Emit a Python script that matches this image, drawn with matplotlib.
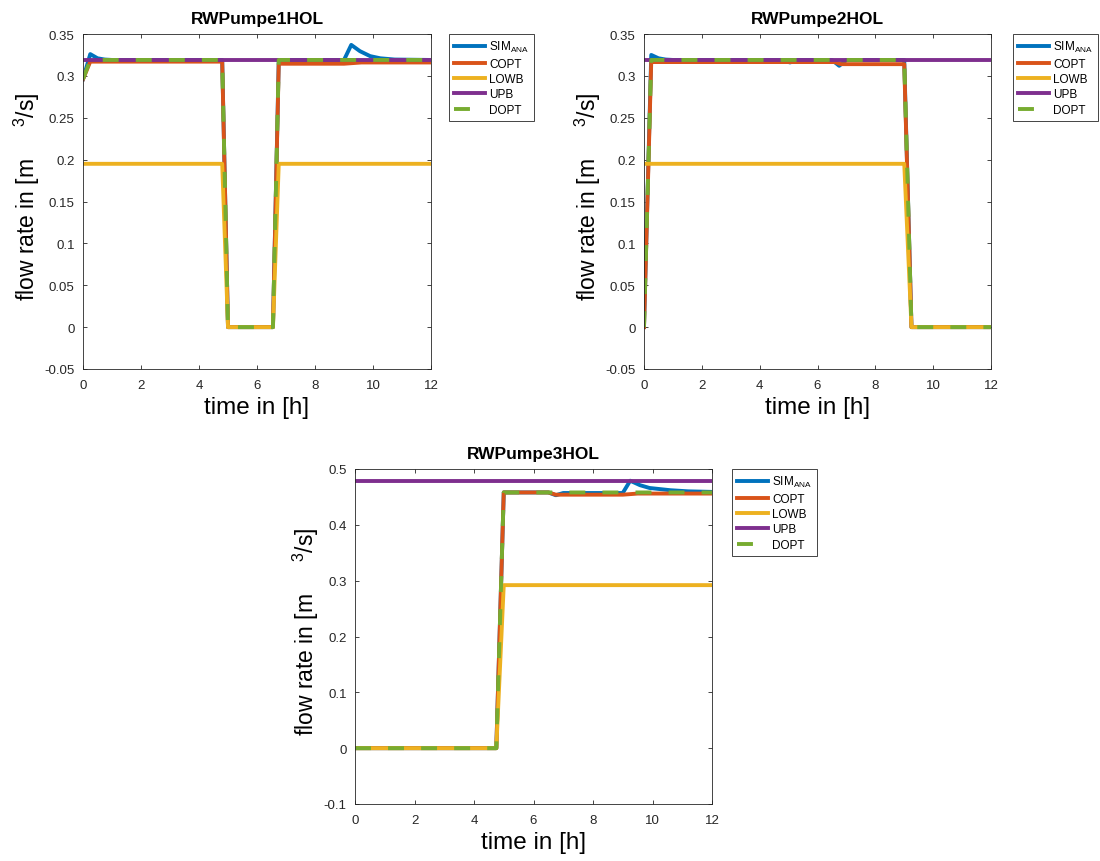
import matplotlib
matplotlib.use('Agg')
import matplotlib.pyplot as plt

plt.rcParams['font.family'] = ['Liberation Sans', 'DejaVu Sans']
plt.rcParams['mathtext.fontset'] = 'custom'
plt.rcParams['mathtext.rm'] = 'Liberation Sans'

# MATLAB default colours
c_sim, c_copt, c_lowb, c_upb, c_dopt = '#0072BD', '#D95319', '#EDB120', '#7E2F8E', '#77AC30'
labels = ['SIM$_{\\mathregular{ANA}}$', 'COPT', 'LOWB', 'UPB', 'DOPT']
titles = ['RWPumpe1HOL', 'RWPumpe2HOL', 'RWPumpe3HOL']

# ---- RWPumpe1HOL ----
t_sim1 = [0, 0.25, 0.5, 0.75, 1.0, 4.8, 5.0, 6.55, 6.75, 9.0, 9.25, 9.55, 9.9, 10.25, 10.75, 12]
sim1 = [0.296, 0.326, 0.321, 0.3195, 0.319, 0.319, 0, 0, 0.319, 0.319, 0.337, 0.3295, 0.3236, 0.321, 0.3195, 0.319]
t_copt1 = [0, 0.25, 4.8, 5.0, 6.55, 6.75, 9.0, 9.6, 12]
copt1 = [0.296, 0.317, 0.317, 0, 0, 0.3145, 0.3145, 0.316, 0.316]
t_lowb1 = [0, 4.8, 5.0, 6.55, 6.75, 12]
lowb1 = [0.195, 0.195, 0, 0, 0.195, 0.195]
t_upb1 = [0, 12]
upb1 = [0.319, 0.319]
t_dopt1 = [0, 0.25, 4.8, 5.0, 6.55, 6.75, 12]
dopt1 = [0.296, 0.319, 0.319, 0, 0, 0.319, 0.319]

# ---- RWPumpe2HOL ----
t_sim2 = [0, 0.25, 0.5, 0.75, 1.0, 4.75, 5.05, 5.3, 6.5, 6.75, 7.0, 9.0, 9.25, 12]
sim2 = [0, 0.325, 0.321, 0.3195, 0.319, 0.319, 0.316, 0.319, 0.319, 0.312, 0.319, 0.319, 0, 0]
t_copt2 = [0, 0.25, 6.6, 6.8, 9.0, 9.25, 12]
copt2 = [0, 0.3165, 0.3165, 0.314, 0.314, 0, 0]
t_lowb2 = [0, 9.0, 9.25, 12]
lowb2 = [0.195, 0.195, 0, 0]
t_upb2 = [0, 12]
upb2 = [0.319, 0.319]
t_dopt2 = [0, 0.25, 9.0, 9.25, 12]
dopt2 = [0, 0.319, 0.319, 0, 0]

# ---- RWPumpe3HOL ----
t_sim3 = [0, 4.75, 5.0, 6.5, 6.75, 7.0, 9.0, 9.25, 9.58, 9.9, 10.6, 11.2, 12]
sim3 = [0, 0, 0.458, 0.458, 0.453, 0.457, 0.457, 0.479, 0.471, 0.466, 0.462, 0.460, 0.459]
t_copt3 = [0, 4.75, 5.0, 6.5, 6.75, 9.0, 9.5, 12]
copt3 = [0, 0, 0.458, 0.458, 0.454, 0.454, 0.456, 0.456]
t_lowb3 = [0, 4.75, 5.0, 12]
lowb3 = [0, 0, 0.292, 0.292]
t_upb3 = [0, 12]
upb3 = [0.478, 0.478]
t_dopt3 = [0, 4.75, 5.0, 12]
dopt3 = [0, 0, 0.458, 0.458]

xticks = [0, 2, 4, 6, 8, 10, 12]
yticks12 = [-0.05, 0, 0.05, 0.1, 0.15, 0.2, 0.25, 0.3, 0.35]
yticks3 = [-0.1, 0, 0.1, 0.2, 0.3, 0.4, 0.5]

series = [
    [(t_sim1, sim1), (t_copt1, copt1), (t_lowb1, lowb1), (t_upb1, upb1), (t_dopt1, dopt1)],
    [(t_sim2, sim2), (t_copt2, copt2), (t_lowb2, lowb2), (t_upb2, upb2), (t_dopt2, dopt2)],
    [(t_sim3, sim3), (t_copt3, copt3), (t_lowb3, lowb3), (t_upb3, upb3), (t_dopt3, dopt3)],
]
yticks_all = [yticks12, yticks12, yticks3]

W, H = 1100, 862
fig = plt.figure(figsize=(11, 8.62), dpi=100)
# axes rectangles in pixels: left, top, right, bottom
rects = [(83, 35, 431, 370), (644, 35, 991, 370), (355, 470, 712, 805)]
legpos = [(449, 35), (1013, 35), (732, 470)]

lw = 2.8
colors = [c_sim, c_copt, c_lowb, c_upb, c_dopt]
axcol = '#262626'

for i in range(3):
    l, t, r, b = rects[i]
    ax = fig.add_axes([l / W, 1 - b / H, (r - l) / W, (b - t) / H])
    for k, (tt, vv) in enumerate(series[i]):
        if k == 4:
            ax.plot(tt, vv, color=colors[k], lw=lw, linestyle=(0, (4.1, 4.4)), label=labels[k])
        else:
            ax.plot(tt, vv, color=colors[k], lw=lw, label=labels[k])
    yt = yticks_all[i]
    ax.set_xlim(0, 12)
    ax.set_ylim(yt[0], yt[-1])
    ax.set_xticks(xticks)
    ax.set_xticklabels([str(x) for x in xticks])
    ax.set_yticks(yt)
    ax.set_yticklabels(['%g' % round(y, 2) for y in yt])
    ax.tick_params(direction='in', top=True, right=True, length=3, width=0.6,
                   labelsize=9.5, colors=axcol)
    ax.tick_params(axis='x', pad=7)
    ax.tick_params(axis='y', pad=6)
    for s in ax.spines.values():
        s.set_color(axcol)
        s.set_linewidth(0.6)
    ax.set_title(titles[i], fontsize=12.5, fontweight='bold', pad=8)
    ax.set_xlabel('time in [h]', fontsize=17.5, labelpad=4)
    ax.set_ylabel('flow rate in [m     $^{3}$/s]', fontsize=16.5, labelpad=2, y=0.518)
    lx, ly = legpos[i]
    ax.legend(loc='upper left', bbox_to_anchor=(lx / W, 1 - ly / H),
              bbox_transform=fig.transFigure, fontsize=8.5, frameon=True,
              fancybox=False, edgecolor=axcol, framealpha=1, borderaxespad=0,
              handlelength=2.6, handletextpad=0.35, labelspacing=0.28,
              borderpad=0.45).get_frame().set_linewidth(0.6)

fig.savefig('out.png', dpi=100)
